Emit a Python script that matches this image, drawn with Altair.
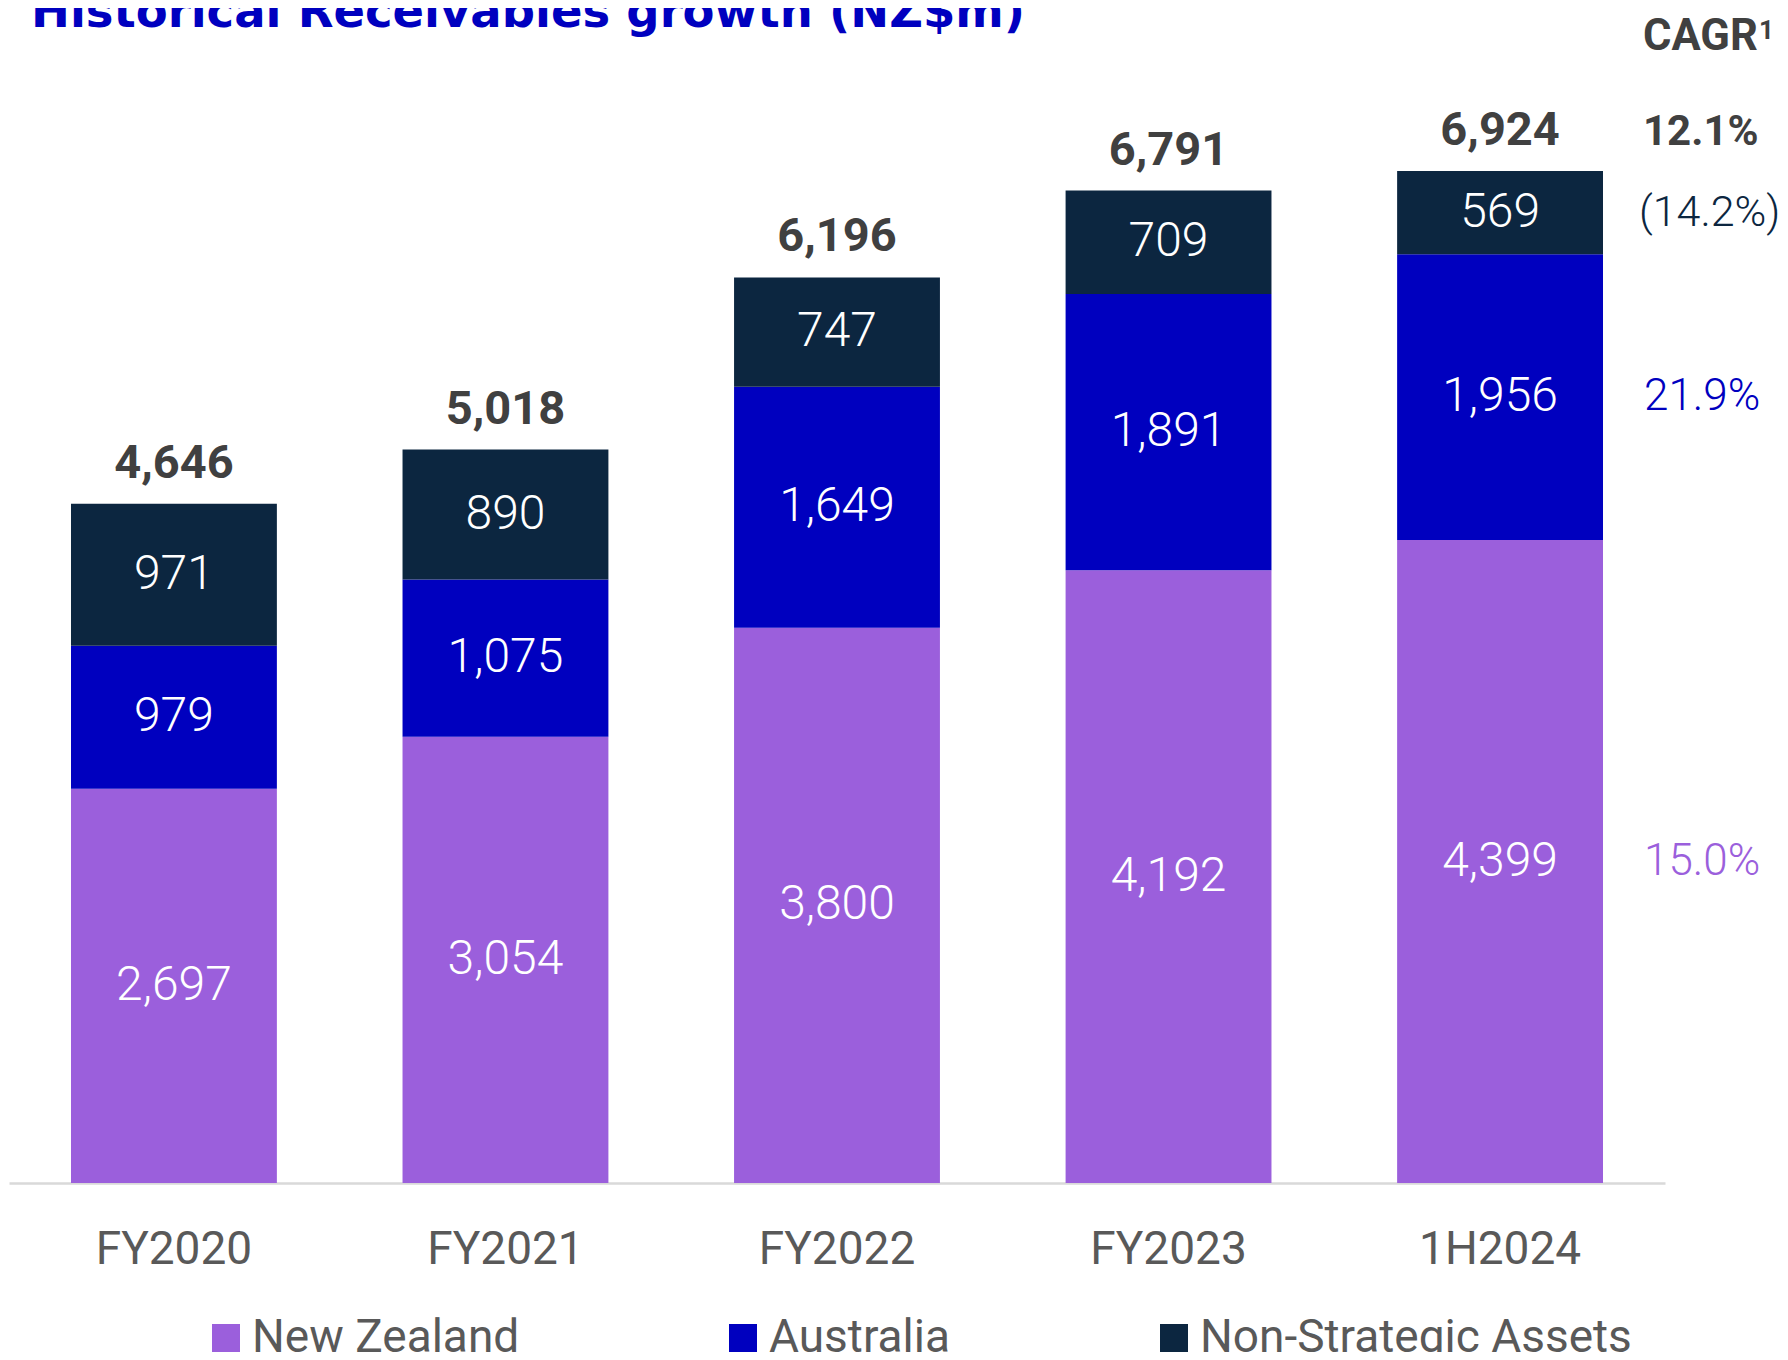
import altair as alt
import pandas as pd

# ---- data ----
periods = ["FY2020", "FY2021", "FY2022", "FY2023", "1H2024"]
series = ["New Zealand", "Australia", "Non-Strategic Assets"]
nz = [2697, 3054, 3800, 4192, 4399]
au = [979, 1075, 1649, 1891, 1956]
nsa = [971, 890, 747, 709, 569]
totals = [4646, 5018, 6196, 6791, 6924]
cagr_series = ["15.0%", "21.9%", "(14.2%)"]
cagr_total = "12.1%"
cagr_header = "CAGR"
cagr_note = "1"
title_text = "Historical Receivables growth (NZ$m)"
colors = ["#9B5FDC", "#0000BF", "#0C2640"]

FONT = "Roboto"

rows = []
for i, p in enumerate(periods):
    base = 0
    for k, (s, vals) in enumerate(zip(series, [nz, au, nsa])):
        v = vals[i]
        rows.append(dict(period=p, series=s, order=k, value=v, start=base,
                         end=base + v, mid=base + v / 2, label=f"{v:,}"))
        base += v
seg = pd.DataFrame(rows)
tot = pd.DataFrame(dict(period=periods, total=totals,
                        label=[f"{t:,}" for t in totals]))
last = seg[seg.period == periods[-1]].copy()
last["cagr"] = cagr_series
tot_last = pd.DataFrame(dict(total=[totals[-1]], cagr=[cagr_total]))

xscale = alt.Scale(domain=periods, paddingInner=0.379, paddingOuter=0.187)
yscale = alt.Scale(domain=[0, 8040], nice=False, zero=True)
cscale = alt.Scale(domain=series, range=colors)

x_enc = alt.X("period:N", sort=periods, scale=xscale,
              axis=alt.Axis(title=None, labelFontSize=46, labelColor="#595959",
                            labelFont=FONT, ticks=False, tickSize=0,
                            domainColor="#D9D9D9", domainWidth=2.5,
                            labelPadding=66, labelBaseline="middle",
                            labelAngle=0, grid=False))

bars = alt.Chart(seg).mark_bar().encode(
    x=x_enc,
    y=alt.Y("start:Q", scale=yscale, axis=None),
    y2="end:Q",
    color=alt.Color("series:N", scale=cscale,
                    legend=alt.Legend(title=None, orient="none", legendX=194,
                                      legendY=1307, direction="horizontal",
                                      symbolType="square", symbolSize=784,
                                      symbolStrokeWidth=0, labelFontSize=46,
                                      labelFont=FONT, labelColor="#595959",
                                      labelOffset=3, columnPadding=200,
                                      labelLimit=0, padding=0)),
    order=alt.Order("order:Q"),
)

seg_labels = alt.Chart(seg).mark_text(
    color="white", fontSize=48, font=FONT, fontWeight=300,
    baseline="middle", align="center"
).encode(
    x=alt.X("period:N", sort=periods, scale=xscale),
    y=alt.Y("mid:Q", scale=yscale),
    text="label:N",
)

tot_labels = alt.Chart(tot).mark_text(
    color="#404040", fontSize=47, font=FONT, fontWeight="bold",
    baseline="alphabetic", align="center", dy=-26
).encode(
    x=alt.X("period:N", sort=periods, scale=xscale),
    y=alt.Y("total:Q", scale=yscale),
    text="label:N",
)

cagr_pos = alt.Chart(last).transform_filter(
    alt.datum.series != series[2]
).mark_text(
    fontSize=44, font=FONT, fontWeight=300, baseline="middle", align="left"
).encode(
    x=alt.value(1635),
    y=alt.Y("mid:Q", scale=yscale),
    text="cagr:N",
    color=alt.Color("series:N", scale=cscale, legend=None),
)

cagr_neg = alt.Chart(last).transform_filter(
    alt.datum.series == series[2]
).mark_text(
    fontSize=43, font=FONT, fontWeight=300, baseline="middle", align="left"
).encode(
    x=alt.value(1630),
    y=alt.Y("mid:Q", scale=yscale),
    text="cagr:N",
    color=alt.Color("series:N", scale=cscale, legend=None),
)

cagr_tot = alt.Chart(tot_last).mark_text(
    fontSize=42, font=FONT, fontWeight="bold", color="#404040",
    baseline="alphabetic", align="left", dy=-26
).encode(
    x=alt.value(1634),
    y=alt.Y("total:Q", scale=yscale),
    text="cagr:N",
)

cagr_head = alt.Chart(pd.DataFrame(dict(t=[cagr_header]))).mark_text(
    fontSize=43.5, font=FONT, fontWeight="bold", color="#404040",
    baseline="alphabetic", align="left"
).encode(x=alt.value(1634), y=alt.value(42), text="t:N")

cagr_sup = alt.Chart(pd.DataFrame(dict(t=[cagr_note]))).mark_text(
    fontSize=26, font=FONT, fontWeight="bold", color="#404040",
    baseline="top", align="left"
).encode(x=alt.value(1750), y=alt.value(10), text="t:N")

title = alt.Chart(pd.DataFrame(dict(t=[title_text]))).mark_text(
    fontSize=46.5, font="DejaVu Sans", fontWeight="bold", color="#0000BF",
    baseline="alphabetic", align="left"
).encode(x=alt.value(22), y=alt.value(19), text="t:N")

chart = alt.layer(bars, seg_labels, tot_labels, cagr_pos, cagr_neg, cagr_tot,
                  cagr_head, cagr_sup, title).properties(
    width=1656, height=1175,
    autosize=alt.AutoSizeParams(type="none"),
    padding={"left": 1, "top": 0, "right": 115, "bottom": 169},
).configure_view(stroke=None)

chart.save("out.html", embed_options={"renderer": "svg", "actions": False})
